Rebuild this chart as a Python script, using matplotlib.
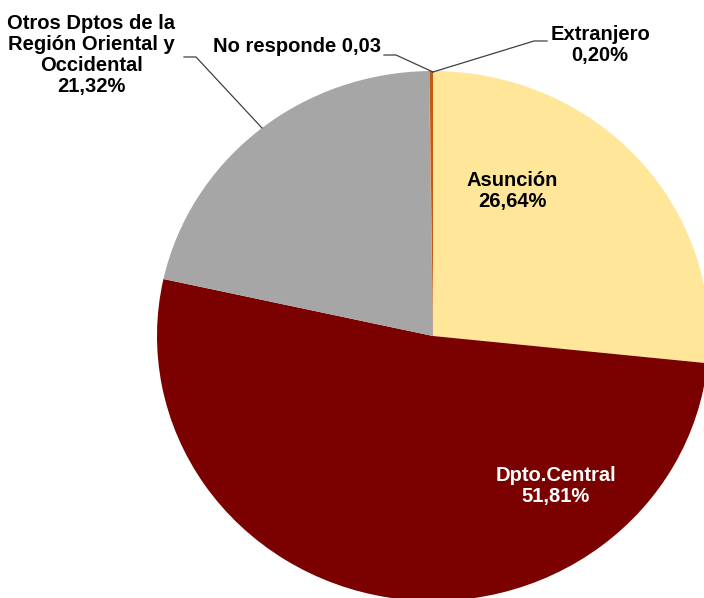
import matplotlib
matplotlib.use("Agg")
import matplotlib.pyplot as plt

plt.rcParams['font.family'] = ['Liberation Sans', 'DejaVu Sans']

labels = ["Asunción", "Dpto.Central", "Otros Dptos de la\nRegión Oriental y\nOccidental",
          "No responde", "Extranjero"]
values = [26.64, 51.81, 21.32, 0.03, 0.20]
value_text = ["26,64%", "51,81%", "21,32%", "0,03", "0,20%"]
colors = ["#FFE699", "#7B0000", "#A6A6A6", "#ED7D31", "#C55A11"]

W, H = 704, 598
CX, CY, RX, RY = 433, 336, 276, 265


def px(x, y):
    # pixel position -> pie data coords (pie is a unit circle, stretched)
    return (x - CX) / RX, (CY - y) / RY


fig = plt.figure(figsize=(W / 100, H / 100), dpi=100)
ax = fig.add_axes([0, 0, 1, 1])
ax.pie(values, colors=colors, startangle=90, counterclock=False,
       wedgeprops=dict(linewidth=0))
ax.set_aspect('auto')
ax.set_xlim(px(0, 0)[0], px(W, 0)[0])
ax.set_ylim(px(0, H)[1], px(0, 0)[1])
ax.axis('off')

fs = 14.5
ls = 1.13
ax.text(*px(512, 191), labels[0] + "\n" + value_text[0], ha='center', va='center',
        fontsize=fs, fontweight='bold', color='black', linespacing=ls)
ax.text(*px(556, 486), labels[1] + "\n" + value_text[1], ha='center', va='center',
        fontsize=fs, fontweight='bold', color='white', linespacing=ls)
ax.text(*px(91, 55), labels[2] + "\n" + value_text[2], ha='center', va='center',
        fontsize=fs, fontweight='bold', color='black', linespacing=ls)
ax.text(*px(297, 47), labels[3] + " " + value_text[3], ha='center', va='center',
        fontsize=fs, fontweight='bold', color='black')
ax.text(*px(600, 45), labels[4] + "\n" + value_text[4], ha='center', va='center',
        fontsize=fs, fontweight='bold', color='black', linespacing=ls)

# leader lines
lc = '#404040'
for pts in ([(184, 57), (196, 57), (262, 128)],
            [(384, 55), (396, 55), (433, 72)],
            [(433, 72), (534, 41), (547, 41)]):
    xs, ys = zip(*[px(x, y) for x, y in pts])
    ax.plot(xs, ys, color=lc, linewidth=0.9)

fig.savefig("out.png", dpi=100)
